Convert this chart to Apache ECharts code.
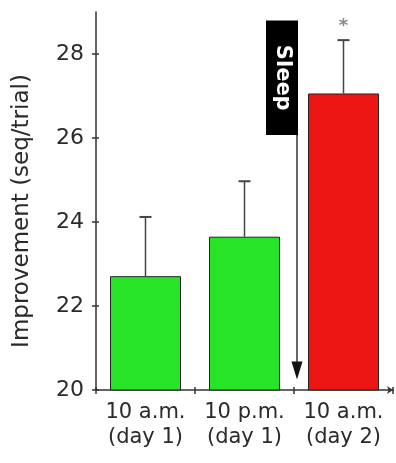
<!DOCTYPE html>
<html>
<head>
<meta charset="utf-8">
<script src="https://cdn.jsdelivr.net/npm/echarts@6/dist/echarts.min.js"></script>
<style>
html,body{margin:0;padding:0;background:#fff;}
#chart{width:396px;height:463px;}
</style>
</head>
<body>
<div id="chart"></div>
<script>
// ---- data ----
var categories = ['10 a.m.\n(day 1)', '10 p.m.\n(day 1)', '10 a.m.\n(day 2)'];
var means = [22.71, 23.65, 27.06];
var errors = [1.41, 1.32, 1.27];
var barColors = ['#27e427', '#27e427', '#ee1515'];
var significance = ['', '', '*'];
var yTicks = [20, 22, 24, 26, 28];
var yName = 'Improvement (seq/trial)';
var sleepLabel = 'Sleep';

var FONT = 'DejaVu Sans';
var TXT = '#2a2a2a';
var AX = '#333';

var chart = echarts.init(document.getElementById('chart'), null, {renderer: 'canvas'});

var option = {
  animation: false,
  backgroundColor: '#fff',
  grid: {left: 96, right: 3, top: 12, bottom: 73},
  xAxis: [{
    type: 'category',
    data: categories,
    axisLine: {lineStyle: {color: AX, width: 1.5}, symbol: ['none', 'arrow'], symbolSize: [6, 6]},
    axisTick: {show: true, length: 4, lineStyle: {color: AX, width: 1.5}},
    axisLabel: {color: TXT, fontFamily: FONT, fontSize: 21, lineHeight: 25, margin: 10, interval: 0, hideOverlap: false}
  }, {
    type: 'category',
    data: categories,
    position: 'bottom',
    axisLine: {show: false},
    axisTick: {show: true, inside: true, length: 3, lineStyle: {color: AX, width: 1.5}},
    axisLabel: {show: false}
  }],
  yAxis: [{
    type: 'value',
    min: 20, max: 29, interval: 2,
    name: yName,
    nameLocation: 'middle',
    nameGap: 62,
    nameTextStyle: {color: TXT, fontFamily: FONT, fontSize: 23, padding: [0, 20, 0, 0]},
    axisLine: {show: true, lineStyle: {color: AX, width: 1.5}},
    axisTick: {show: true, length: 4, customValues: yTicks, lineStyle: {color: AX, width: 1.5}},
    axisLabel: {color: TXT, fontFamily: FONT, fontSize: 22, margin: 12, customValues: yTicks},
    splitLine: {show: false}
  }, {
    type: 'value',
    min: 20, max: 29, interval: 2,
    position: 'left', offset: 0,
    axisLine: {show: false},
    axisTick: {show: true, inside: true, length: 3, customValues: yTicks, lineStyle: {color: AX, width: 1.5}},
    axisLabel: {show: false},
    splitLine: {show: false}
  }],
  series: [{
    type: 'bar',
    barWidth: 71,
    data: means.map(function (v, i) {
      return {value: v, itemStyle: {color: barColors[i], borderColor: '#222', borderWidth: 1}};
    }),
    z: 2
  }, {
    type: 'custom',
    z: 3,
    data: means.map(function (v, i) { return [i, v, v + errors[i], significance[i]]; }),
    renderItem: function (params, api) {
      var i = api.value(0);
      var p0 = api.coord([i, api.value(1)]);
      var p1 = api.coord([i, api.value(2)]);
      var cap = 6;
      var children = [
        {type: 'line', shape: {x1: p0[0], y1: p0[1], x2: p1[0], y2: p1[1]}, style: {stroke: '#444', lineWidth: 1.5}},
        {type: 'line', shape: {x1: p1[0] - cap, y1: p1[1], x2: p1[0] + cap, y2: p1[1]}, style: {stroke: '#444', lineWidth: 2}}
      ];
      var sig = significance[params.dataIndex];
      if (sig) {
        children.push({type: 'text', style: {text: sig, x: p1[0], y: p1[1] - 5, align: 'center', verticalAlign: 'bottom',
          fill: '#888', font: 'bold 18px ' + FONT}});
      }
      return {type: 'group', children: children};
    }
  }]
};
chart.setOption(option);

// Sleep annotation between day-1 evening and day-2 morning
function drawSleep() {
  var c1 = chart.convertToPixel({xAxisIndex: 0}, 1);
  var c2 = chart.convertToPixel({xAxisIndex: 0}, 2);
  var x = (c1 + c2) / 2 + 4;
  var yTop = chart.convertToPixel({yAxisIndex: 0}, 28.8);
  var yBoxBot = chart.convertToPixel({yAxisIndex: 0}, 26.07);
  var yTip = chart.convertToPixel({yAxisIndex: 0}, 20.25);
  var bw = 32;
  chart.setOption({
    graphic: [
      {type: 'rect', shape: {x: x - bw, y: yTop, width: bw, height: yBoxBot - yTop}, style: {fill: '#000'}, z: 10},
      {type: 'text', x: x - bw / 2, y: (yTop + yBoxBot) / 2, rotation: -Math.PI / 2,
        style: {text: sleepLabel, fill: '#fff', font: 'bold 21px ' + FONT, align: 'center', verticalAlign: 'middle'}, z: 11},
      {type: 'line', shape: {x1: x - 1, y1: yBoxBot, x2: x - 1, y2: yTip - 10}, style: {stroke: '#333', lineWidth: 1.5}, z: 10},
      {type: 'polygon', shape: {points: [[x - 6.5, yTip - 18], [x + 4.5, yTip - 18], [x - 1, yTip]]}, style: {fill: '#111'}, z: 10}
    ]
  });
}
drawSleep();
</script>
</body>
</html>
